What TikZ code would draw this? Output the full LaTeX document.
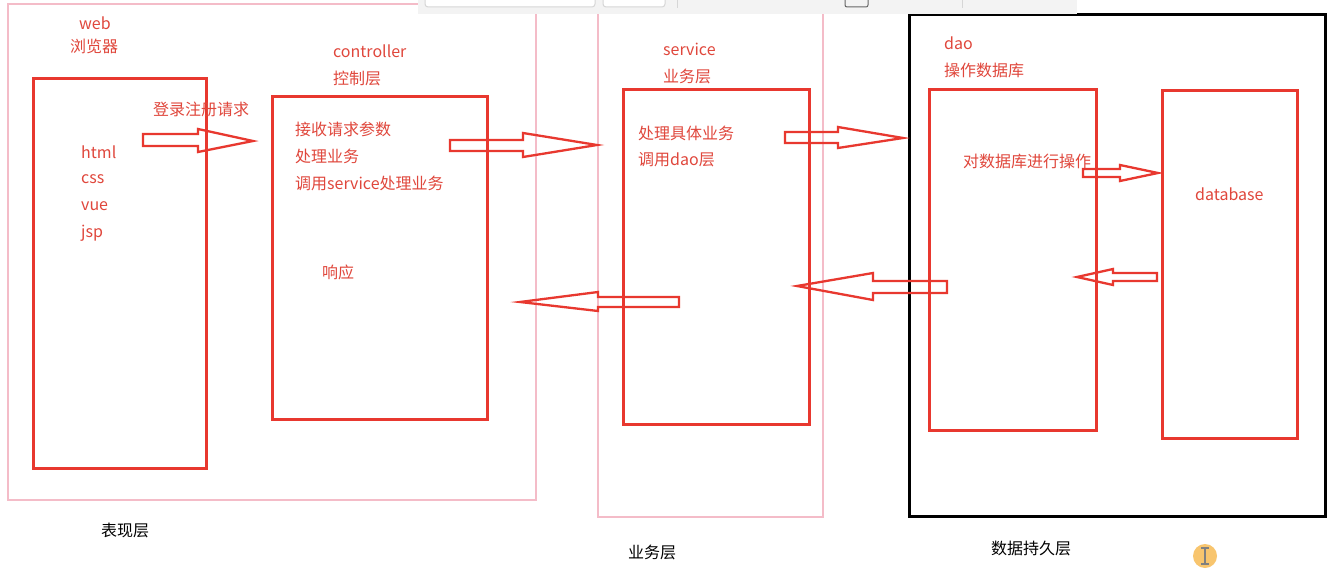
\documentclass[tikz,border=0pt]{standalone}
\usepackage{fontspec}
\setmainfont{Noto Sans CJK SC}
\definecolor{boxred}{HTML}{E8382F}
\definecolor{txtred}{HTML}{E0473C}
\definecolor{layerpink}{HTML}{F4BCC8}
\definecolor{barbg}{HTML}{F3F3F3}
\definecolor{bargrey}{HTML}{D6D6D6}
\definecolor{iconorange}{HTML}{F8C56E}
\begin{document}
\begin{tikzpicture}[x=1pt,y=-1pt,
  layerbox/.style={draw=layerpink,line width=2.5pt},
  tierbox/.style={draw=boxred,line width=2.8pt},
  blockarrow/.style={draw=boxred,line width=2.3pt,line join=miter,fill=none},
  lbl/.style={anchor=west,inner sep=0pt,text=txtred,font=\fontsize{16}{19}\selectfont},
  caption/.style={anchor=center,inner sep=0pt,text=black,font=\fontsize{16}{19}\selectfont}]
\useasboundingbox[fill=white] (0,0) rectangle (1327,575);

% layer frames
\draw[layerbox] (8,4) rectangle (536,500);
\draw[layerbox] (598,4) rectangle (823,517);
\draw[black,line width=3pt] (909,15) rectangle (1325,516);

% window toolbar strip along the top edge
\fill[barbg] (418,0) rectangle (1077,14);
\draw[bargrey,line width=1pt,rounded corners=3pt,fill=white] (425,-6) rectangle (595,7);
\draw[bargrey,line width=1pt,rounded corners=3pt,fill=white] (603,-6) rectangle (665,7);
\draw[bargrey,line width=1pt] (677,-2) -- (677,8);
\draw[black!60,line width=1pt,rounded corners=2pt] (845,-4) rectangle (868,7);
\draw[bargrey,line width=1pt] (962,-2) -- (962,8);

% tier boxes
\node[tierbox,minimum width=173pt,minimum height=390pt,anchor=north west,inner sep=0pt] (web) at (32,77) {};
\node[tierbox,minimum width=215pt,minimum height=323pt,anchor=north west,inner sep=0pt] (ctl) at (271,95) {};
\node[tierbox,minimum width=186pt,minimum height=335pt,anchor=north west,inner sep=0pt] (svc) at (622,88) {};
\node[tierbox,minimum width=167pt,minimum height=341pt,anchor=north west,inner sep=0pt] (dao) at (928,88) {};
\node[tierbox,minimum width=135pt,minimum height=348pt,anchor=north west,inner sep=0pt] (db) at (1161,89) {};

% headings
\node[lbl] (t-web) at (79,23) {web};
\node[lbl] (t-web2) at (70,46) {浏览器};
\node[lbl] (t-ctl) at (333,51) {controller};
\node[lbl] (t-ctl2) at (333,78) {控制层};
\node[lbl] (t-svc) at (663,49) {service};
\node[lbl] (t-svc2) at (663,76) {业务层};
\node[lbl] (t-dao) at (944,43) {dao};
\node[lbl] (t-dao2) at (944,70) {操作数据库};

% box contents
\node[lbl] (req) at (153,109) {登录注册请求};
\node[lbl] (h1) at (81,152) {html};
\node[lbl] (h2) at (81,179) {css};
\node[lbl] (h3) at (81,206) {vue};
\node[lbl] (h4) at (81,233) {jsp};
\node[lbl] (c1) at (295,129) {接收请求参数};
\node[lbl] (c2) at (295,156) {处理业务};
\node[lbl] (c3) at (295,183) {调用service处理业务};
\node[lbl] (c4) at (322,272) {响应};
\node[lbl] (s1) at (638,133) {处理具体业务};
\node[lbl] (s2) at (638,160) {调用dao层};
\node[lbl] (d1) at (963,161) {对数据库进行操作};
\node[lbl] (db1) at (1195,194) {database};

% layer captions
\node[caption] (cap1) at (125,530) {表现层};
\node[caption] (cap2) at (652,552) {业务层};
\node[caption] (cap3) at (1031,548) {数据持久层};

% block arrows, request direction
\draw[blockarrow] (143,134) -- (198,134) -- (198,129) -- (253,141) -- (198,152) -- (198,146) -- (143,146) -- cycle;
\draw[blockarrow] (450,140) -- (523,140) -- (523,133) -- (597,145) -- (523,157) -- (523,151) -- (450,151) -- cycle;
\draw[blockarrow] (785,132) -- (838,132) -- (838,127) -- (903,138) -- (838,148) -- (838,143) -- (785,143) -- cycle;
\draw[blockarrow] (1083,169) -- (1120,169) -- (1120,165) -- (1158,173) -- (1120,181) -- (1120,177) -- (1083,177) -- cycle;

% block arrows, response direction
\draw[blockarrow] (1157,273) -- (1113,273) -- (1113,269) -- (1077,277) -- (1113,285) -- (1113,281) -- (1157,281) -- cycle;
\draw[blockarrow] (947,281) -- (873,281) -- (873,273) -- (797,286) -- (873,300) -- (873,293) -- (947,293) -- cycle;
\draw[blockarrow] (679,297) -- (598,297) -- (598,292) -- (520,302) -- (598,311) -- (598,307) -- (679,307) -- cycle;

% text cursor badge
\fill[iconorange] (1205,556) circle (12);
\draw[black!50,line width=1.3pt] (1205,548) -- (1205,564) (1201,548) -- (1209,548) (1201,564) -- (1209,564);
\end{tikzpicture}
\end{document}
